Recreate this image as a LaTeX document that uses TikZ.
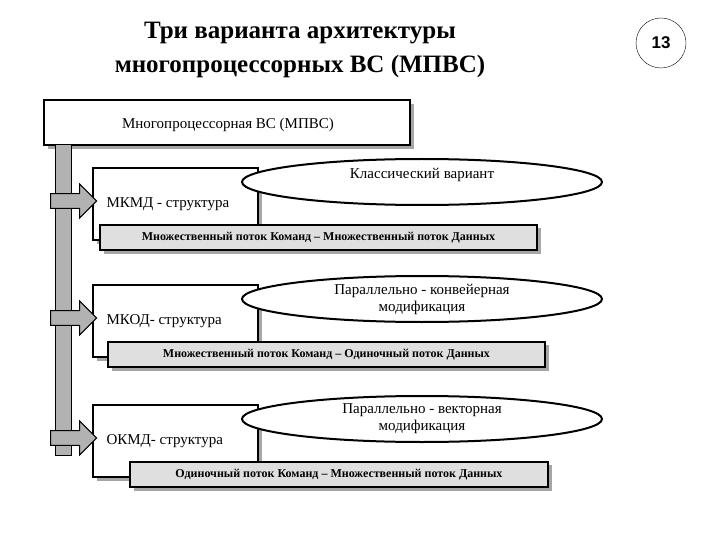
\documentclass[tikz,border=0pt]{standalone}
\usepackage{fontspec}
\setmainfont{Liberation Serif}
\newfontfamily\sansf{Liberation Sans}
\usetikzlibrary{shapes.geometric,shapes.arrows}
\tikzset{
  shad/.style={fill=gray!70,draw=none},
  wbox/.style={draw,line width=1.2pt,fill=white},
  gbar/.style={draw,line width=1.2pt,fill=gray!25},
  oval/.style={ellipse,draw,line width=2pt,fill=white,align=center,inner sep=0pt,font=\fontsize{15}{17}\selectfont},
  arr/.style={single arrow,draw,line width=1pt,fill=gray!60,minimum height=46pt,minimum width=34pt,single arrow head extend=6pt,inner sep=4pt},
  lbl/.style={font=\fontsize{15}{17}\selectfont,anchor=west},
  btxt/.style={font=\bfseries\fontsize{12}{13}\selectfont}
}
\begin{document}
\begin{tikzpicture}[x=1pt,y=-1pt]
\useasboundingbox (0,0) rectangle (720,540);
\node[align=center,font=\bfseries\fontsize{25}{34}\selectfont] (title) at (300,50) {Три варианта архитектуры\\многопроцессорных ВС (МПВС)};
\node[circle,draw,minimum size=50pt,font=\sansf\bfseries\fontsize{17}{18}\selectfont] (num) at (661,43) {13};
% top box
\fill[shad] (48,104) rectangle (414,149);
\draw[wbox] (44,100) rectangle (410,145);
\node[font=\fontsize{15}{17}\selectfont] (top) at (228,125) {Многопроцессорная ВС (МПВС)};
% vertical bar
\draw[fill=gray!60,line width=1pt] (55,145) rectangle (71,455);
% rows
\foreach \y/\lab/\oa/\ob/\bx/\bw/\bt [count=\i] in
 {168/МКМД - структура/Классический вариант//100/537/Множественный поток Команд -- Множественный поток Данных,
  285/МКОД- структура/Параллельно - конвейерная/модификация/108/545/Множественный поток Команд -- Одиночный поток Данных,
  405/ОКМД- структура/Параллельно - векторная/модификация/130/548/Одиночный поток Команд -- Множественный поток Данных}{
  \fill[shad] (97,\y+4) rectangle (262,\y+76);
  \draw[wbox] (93,\y) rectangle (258,\y+72);
  \node[arr] (a\i) at (70,\y+33) {};
  \node[lbl] (l\i) at (103,\y+36) {\lab};
  \node[oval,minimum width=360pt,minimum height=46pt] (o\i) at (422,\y+14) {\oa\\\ob};
  \fill[shad] (\bx+4,\y+60) rectangle (\bw+4,\y+86);
  \draw[gbar] (\bx,\y+57) rectangle (\bw,\y+82);
  \node[btxt] (b\i) at ({(\bx+\bw)/2},\y+70) {\bt};
}
\end{tikzpicture}
\end{document}
